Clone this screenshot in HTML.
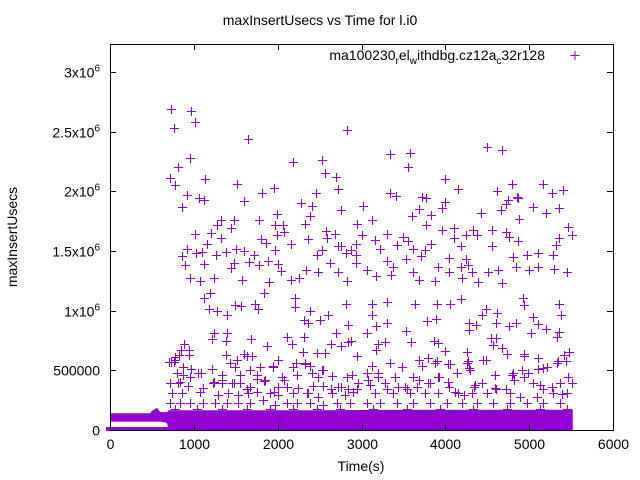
<!DOCTYPE html>
<html><head><meta charset="utf-8"><style>
html,body{margin:0;padding:0;background:#fff;}
svg{display:block;font-family:"Liberation Sans",sans-serif;}
</style></head><body>
<svg id="chart" width="640" height="480" viewBox="0 0 640 480" xmlns="http://www.w3.org/2000/svg">
<rect x="0" y="0" width="640" height="480" fill="#fff"/>
<text x="320" y="25" text-anchor="middle" font-size="14" fill="#000">maxInsertUsecs vs Time for l.i0</text>
<text x="17" y="237" text-anchor="middle" font-size="14" fill="#000" transform="rotate(-90 17 237)">maxInsertUsecs</text>
<text x="361" y="471" text-anchor="middle" font-size="14" fill="#000">Time(s)</text>
<g id="band"></g>
<g id="points"></g>
<g id="axes"></g>
<g>
<text x="545" y="60" text-anchor="end" font-size="14" fill="#000">ma100230<tspan font-size="10" dy="4">r</tspan><tspan dy="-4">el</tspan><tspan font-size="10" dy="4">w</tspan><tspan dy="-4">ithdbg.cz12a</tspan><tspan font-size="10" dy="4">c</tspan><tspan dy="-4">32r128</tspan></text>
<path d="M570.5 55.5h9M575 51v9" stroke="#9400d3" stroke-width="1"/>
</g>
</svg>
<script>
// x-axis ticks (seconds)
const xTicks = [0,1000,2000,3000,4000,5000,6000];
// y-axis ticks (usecs) and labels
const yTicks = [0,500000,1000000,1500000,2000000,2500000,3000000];
const yTickLabels = ["0","500000","1x10^6","1.5x10^6","2x10^6","2.5x10^6","3x10^6"];
// scattered points: times (s)
const times = [730,970,760,1010,1650,2830,4500,4680,3340,3580,950,2180,2530,810,3560,720,780,1130,2570,2700,4000,1510,2720,1960,1810,2460,3340,3410,4150,4800,4620,5170,5270,5400,920,1060,1120,1600,2280,3720,3770,4850,4870,4000,4750,4720,860,2410,2760,3020,3680,3600,3830,3960,4430,4660,5050,5200,5360,4880,1330,1480,1780,1280,1440,1970,1990,2060,2380,2330,2950,3120,3770,3960,4100,4560,4720,5460,5510,4330,1010,1210,1990,2080,2580,2680,3310,3500,4250,4380,4760,1330,1800,2360,2590,3010,3160,4100,4870,5350,1160,1860,2160,2720,2930,3420,3550,3830,4190,4560,5320,920,1500,1600,1970,2530,2760,2880,3220,3620,3760,860,1020,1100,1270,1380,1720,2470,2810,2940,3710,4810,4970,5100,5280,4040,4250,890,1120,1440,1480,1660,1780,1880,2000,2630,2930,3300,3380,3530,3910,4190,4270,4630,4840,5000,5110,5300,5450,4320,4510,2040,2340,2480,2720,3060,3170,3350,3620,4040,950,1070,1240,1580,2160,2260,2830,3680,3880,4200,4670,4390,1900,
1120,1190,1730,1760,1840,2210,2210,1490,1560,1180,1280,1400,2820,3120,3300,3640,3900,4060,4190,4620,4930,4940,5360,5380,5040,5100,5020,5200,5330,5360,4440,4480,4280,4360,4280,3780,3890,3130,3170,3310,2600,2510,2320,2360,2390,2840,2690,3060,3530,4840,4760,4610,4540,4610,4570,4680,4740,4940,4940,1240,1220,1400,1380,1680,1870,2110,2170,2320,2300,2470,2560,2640,2760,2840,2870,2950,3170,3200,3280,3590,3860,3910,4000,4260,4270,4480,5100,5340,5440,5470,5420,880,850,940,940,820,780,700,770,760,1600,1630,1690,1380,1510,2000,1940,2220,2330,2390,2540,3680,3790,3900,4060,4280,4450,4920,5110,5210,
720,830,960,1080,1240,1340,1480,1630,1750,1840,1960,2080,2240,2360,2480,2640,2750,2840,2960,3080,3200,3310,3440,3540,3680,3820,3920,4040,4120,4220,4340,4440,4600,4720,4820,4940,5040,5160,5270,5390,5510];
// scattered points: values (thousand usecs)
const valuesK = [2690,2670,2530,2580,2440,2510,2370,2350,2310,2320,2280,2250,2260,2200,2200,2110,2050,2100,2150,2120,2100,2060,2020,2030,1990,1990,1990,1960,2020,2060,2000,2060,1990,2010,1970,1940,1930,1920,1900,1950,1940,1950,1940,1910,1930,1890,1870,1880,1840,1880,1850,1790,1800,1860,1820,1840,1870,1820,1860,1770,1760,1760,1760,1720,1690,1720,1810,1720,1790,1730,1730,1760,1720,1680,1690,1680,1660,1700,1630,1680,1640,1650,1630,1660,1670,1640,1640,1620,1630,1630,1620,1610,1600,1600,1610,1630,1590,1610,1580,1610,1560,1570,1560,1540,1560,1550,1580,1560,1540,1540,1550,1520,1520,1500,1510,1510,1540,1510,1520,1520,1510,1460,1480,1490,1470,1490,1470,1470,1480,1470,1460,1450,1470,1480,1470,1440,1430,1380,1390,1360,1400,1410,1380,1420,1390,1400,1400,1420,1370,1430,1370,1370,1380,1340,1370,1340,1370,1350,1320,1320,1320,1330,1340,1320,1320,1340,1290,1300,1320,1320,1270,1250,1270,1260,1260,1270,1250,1260,1250,1270,1230,1240,1240,
1110,1150,1060,1010,1150,1030,1110,1050,1040,1010,1000,960,1060,1060,1070,1060,1060,1060,1100,980,1110,1050,1060,960,950,890,810,850,780,820,960,1010,900,880,840,910,930,960,870,900,960,920,920,900,1000,880,810,810,830,900,870,900,770,770,710,690,640,640,620,810,760,810,750,760,700,780,720,780,650,645,645,720,700,740,750,620,670,720,740,740,750,730,660,650,580,590,600,580,580,650,630,720,670,670,630,630,610,570,590,570,640,620,620,630,590,590,540,560,560,540,500,590,600,580,550,520,590,500,510,530,
390,400,440,480,400,420,390,340,430,410,320,420,350,310,440,340,360,340,390,420,440,340,360,340,420,390,440,360,320,290,360,390,340,340,420,440,390,340,360,300,390];
// dense low-range points: times (s)
const lowTimes = [730,870,970,1220,1430,1490,1670,1790,1940,2180,2330,800,870,1050,1340,1550,1750,2050,2230,2410,2530,2650,2830,2890,720,810,930,1110,1230,1340,1460,1550,1670,1850,2000,2110,2240,2420,2540,2720,2840,2950,740,860,1070,1290,1410,1530,1650,1750,1910,2000,2180,2350,2480,2650,2800,2900,720,840,950,1110,1250,1400,1530,1670,1830,1970,2110,2230,2390,2540,2710,2860,780,1040,1340,1630,1910,2180,2470,2740,
3130,3340,3480,3720,3880,4030,4260,4300,4590,4810,4990,5170,5330,5460,3070,3200,3400,3610,3790,3910,4030,4140,4350,4590,4800,5130,5370,3100,3280,3520,3660,3160,3380,3580,3760,3910,4150,4320,4500,4770,4890,5090,5290,5450,3070,3220,3420,3610,3820,4020,4200,4380,4570,4770,4970,5170,5370,3140,3540,3940,4330,4740,5130,5450];
// dense low-range points: values (thousand usecs)
const lowValuesK = [570,530,510,510,560,530,500,530,530,530,550,480,460,480,460,460,460,440,460,480,500,450,440,460,390,390,370,350,390,390,390,390,360,420,360,360,350,370,370,360,340,340,310,310,320,290,310,290,310,320,310,290,310,310,280,310,290,320,230,230,230,230,230,230,230,230,250,210,230,230,230,210,230,230,180,180,180,180,180,180,180,180,
540,560,530,540,560,550,560,500,460,480,480,520,560,440,480,480,440,440,390,440,400,480,380,350,460,380,390,380,390,360,360,310,310,310,310,310,310,310,310,310,280,280,310,310,230,230,230,230,230,230,230,230,230,230,230,230,230,180,180,180,180,180,180,180];
// dense band: time (s), lower and upper value (thousand usecs)
const bandTimes = [0,480,500,560,600,680,700,1500,2500,3500,4500,5520];
const bandLowK = [70,70,70,70,70,60,0,0,0,0,0,0];
const bandHighK = [140,140,160,185,150,150,165,165,165,170,170,170];
// floor series near zero (0-700 s)
const floorTimes = [0,700];
const floorHighK = [25,25];

const X0=110, X1=613, Y0=430, YTOP=44;
function xs(t){ return X0 + t/6000*(X1-X0); }
function ys(v){ return Y0 - v/3000000*(Y0-72); }
const NS="http://www.w3.org/2000/svg";
const purple="#9400d3";

// band polygon
const bandG=document.getElementById('band');
let pts=[];
for(let i=0;i<bandTimes.length;i++) pts.push(xs(bandTimes[i])+','+ys(bandHighK[i]*1000));
for(let i=bandTimes.length-1;i>=0;i--) pts.push(xs(bandTimes[i])+','+ys(bandLowK[i]*1000));
const poly=document.createElementNS(NS,'polygon');
poly.setAttribute('points',pts.join(' '));
poly.setAttribute('fill',purple);


bandG.appendChild(poly);
const fl=document.createElementNS(NS,'rect');
fl.setAttribute('x',xs(floorTimes[0])-4);
fl.setAttribute('y',ys(floorHighK[0]*1000));
fl.setAttribute('width',xs(floorTimes[1])-xs(floorTimes[0])+4);
fl.setAttribute('height',ys(0)-ys(floorHighK[0]*1000)+1);
fl.setAttribute('fill',purple);


bandG.appendChild(fl);

// points
const pg=document.getElementById('points');
let d='';
function addPt(t,vk){
  const x=Math.round(xs(t))+0.5, y=Math.round(ys(vk*1000))+0.5;
  d+='M'+(x-4.5)+' '+y+'h9M'+x+' '+(y-4.5)+'v9';
}
const n=Math.min(times.length,valuesK.length);
for(let i=0;i<n;i++) addPt(times[i],valuesK[i]);
const m=Math.min(lowTimes.length,lowValuesK.length);
for(let i=0;i<m;i++) addPt(lowTimes[i],lowValuesK[i]);
const path=document.createElementNS(NS,'path');
path.setAttribute('d',d);
path.setAttribute('stroke',purple);
path.setAttribute('stroke-width','1');
path.setAttribute('fill','none');


pg.appendChild(path);

// axes
const ax=document.getElementById('axes');
const border=document.createElementNS(NS,'rect');
border.setAttribute('x',X0+0.5);border.setAttribute('y',YTOP+0.5);
border.setAttribute('width',X1-X0);border.setAttribute('height',Y0-YTOP);
border.setAttribute('fill','none');border.setAttribute('stroke','#000');


ax.appendChild(border);
let td='';
xTicks.forEach(t=>{
  const x=Math.round(xs(t))+0.5;
  td+='M'+x+' '+Y0+'v-6M'+x+' '+YTOP+'v6';
  const tx=document.createElementNS(NS,'text');
  tx.setAttribute('x',x);tx.setAttribute('y',Y0+19);
  tx.setAttribute('text-anchor','middle');tx.setAttribute('font-size','14');
  tx.textContent=String(t);
  
  
  ax.appendChild(tx);
});
yTicks.forEach((v,i)=>{
  const y=Math.round(ys(v))+0.5;
  td+='M'+X0+' '+y+'h6M'+X1+' '+y+'h-6';
  const tx=document.createElementNS(NS,'text');
  tx.setAttribute('x',X0-10);tx.setAttribute('y',y+5);
  tx.setAttribute('text-anchor','end');tx.setAttribute('font-size','14');
  const lab=yTickLabels[i];
  if(lab.indexOf('^')>=0){
    const parts=lab.split('^');
    tx.appendChild(document.createTextNode(parts[0]));
    const sp=document.createElementNS(NS,'tspan');
    sp.setAttribute('dy','-6');sp.setAttribute('font-size','10');
    sp.textContent=parts[1];
    tx.appendChild(sp);
  } else tx.textContent=lab;
  
  
  ax.appendChild(tx);
});
const tp=document.createElementNS(NS,'path');
tp.setAttribute('d',td);tp.setAttribute('stroke','#000');tp.setAttribute('fill','none');


ax.appendChild(tp);
</script>
</body></html>
